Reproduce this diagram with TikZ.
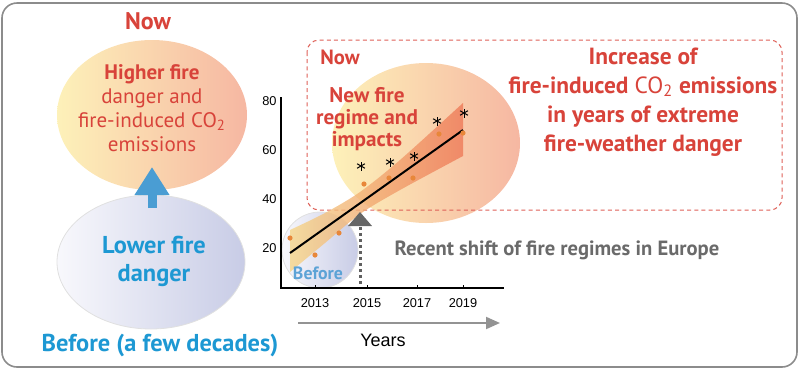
\documentclass[tikz,border=0pt]{standalone}
\usepackage{fontspec}
\setmainfont{PT Sans}
\newfontfamily\axisfont{Liberation Sans}
\usetikzlibrary{arrows.meta}

\definecolor{firered}{HTML}{D8433A}
\definecolor{iceblue}{HTML}{1D98D3}
\definecolor{softblue}{HTML}{5CA3D6}
\definecolor{shiftgray}{HTML}{6A6A6A}
\definecolor{warmleft}{HTML}{FDF1B9}
\definecolor{warmright}{HTML}{F6B7A2}
\definecolor{coolleft}{HTML}{F8F8FC}
\definecolor{coolright}{HTML}{C8CCE6}
\definecolor{dotorange}{HTML}{E8873A}
\definecolor{arrowblue}{HTML}{4A9DD3}
\definecolor{bandleft}{HTML}{F5D589}
\definecolor{bandright}{HTML}{EE7A58}

\newcommand{\fsz}[2]{\fontsize{#1}{#2}\selectfont}

\tikzset{
	firetext/.style={text=firered, align=center, inner sep=0pt},
	icetext/.style={text=iceblue, align=center, inner sep=0pt, font=\bfseries\fsz{12.2}{14}},
	yearlabel/.style={font=\axisfont\fsz{6.4}{8}, inner sep=0pt},
	datadot/.style={fill=dotorange, draw=none},
	starmark/.style={line width=0.5pt, black}
}

\begin{document}
\begin{tikzpicture}[x=0.5pt, y=-0.5pt]

	% frame
	\useasboundingbox (0,0) rectangle (800,387);
	\draw[gray!90, line width=0.8pt, rounded corners=7.5pt] (2,3) rectangle (797,367);

	% left ellipses
	\shade[left color=warmleft, right color=warmright] (152,115) ellipse [x radius=47.5pt, y radius=37.5pt];
	\shade[left color=coolleft, right color=coolright, draw=black!12, line width=0.4pt] (151,262) ellipse [x radius=47pt, y radius=33.5pt];

	% blue arrow
	\coordinate (arrowfoot) at (152,208);
	\coordinate (arrowtip) at (152,167);
	\draw[arrowblue, line width=4.5pt, -{Triangle[length=14pt, width=16.5pt]}] (arrowfoot) -- (arrowtip);

	% chart background shapes
	\shade[left color=warmleft, right color=warmright] (426,143) ellipse [x radius=47pt, y radius=40pt];
	\shade[left color=coolleft, right color=coolright, draw=black!12, line width=0.4pt] (320,250) circle [radius=19pt];
	\fill[white] (282,289) rectangle (360,300);
	\draw[firered!85, dashed, dash pattern=on 2pt off 1.6pt, line width=0.5pt, rounded corners=6pt] (307,40) rectangle (782,210);

	% confidence band
	\shade[left color=bandleft, right color=bandright, opacity=0.8]
		plot[smooth] coordinates {(290,230) (325,213) (360,192) (400,160) (463,103)}
		-- plot[smooth] coordinates {(463,156) (400,190) (360,214) (325,243) (290,272)}
		-- cycle;

	% regression line
	\draw[line width=1pt, black] (290,253) -- (463,130);

	% data points
	\foreach \px/\py in {290/238, 315/255, 339/233, 364/184, 389/178, 413/178, 439/134, 463/133}
		\fill[datadot] (\px,\py) circle [radius=1.3pt];

	% asterisks
	\foreach \px/\py in {361/166, 390/162, 414/156, 437/121, 464/113}
		\foreach \ang in {90,30,150}
			\draw[starmark] (\px,\py) ++(\ang:4.5) -- ++(\ang+180:9);

	% shift marker
	\coordinate (shifttop) at (360,212);
	\coordinate (shiftfoot) at (360,288);
	\fill[gray!80!black] (shifttop) -- (348,226) -- (372,226) -- cycle;
	\draw[gray!75!black, line width=1.5pt, dash pattern=on 1.5pt off 1.5pt] (360,227) -- (shiftfoot);

	% axes
	\draw[line width=0.55pt] (281,97) -- (281,288) -- (504,288);
	\foreach \yx in {315,367,417,463}
		\draw[line width=0.4pt] (\yx,288) -- (\yx,285);

	% labels
	\node[yearlabel, anchor=east] (ylab80) at (277,101) {80};
	\node[yearlabel, anchor=east] (ylab60) at (277,150) {60};
	\node[yearlabel, anchor=east] (ylab40) at (277,199) {40};
	\node[yearlabel, anchor=east] (ylab20) at (277,248) {20};
	\node[yearlabel] (x2013) at (315,303) {2013};
	\node[yearlabel] (x2015) at (367,303) {2015};
	\node[yearlabel] (x2017) at (417,303) {2017};
	\node[yearlabel] (x2019) at (463,303) {2019};

	% years arrow
	\coordinate (timestart) at (298,323);
	\coordinate (timeend) at (500,323);
	\draw[gray!85, line width=1pt, -{Triangle[length=7pt, width=6pt]}] (timestart) -- (timeend);
	\node[font=\axisfont\fsz{9}{10}, inner sep=0pt] (years) at (383,340) {Years};

	% texts left
	\node[firetext, font=\bfseries\fsz{12}{13}] (nowtop) at (148,21) {Now};
	\node[firetext, font=\fsz{10.5}{12}] (higher) at (152,108)
		{\textbf{Higher fire}\\danger and\\fire-induced CO\textsubscript{2}\\emissions};
	\node[icetext] (lower) at (154,261) {Lower fire\\danger};
	\node[icetext] (beforelong) at (160,345) {Before (a few decades)};

	% texts right
	\node[firetext, font=\bfseries\fsz{10.3}{11}] (nowbox) at (340,57) {Now};
	\node[firetext, font=\bfseries\fsz{10.6}{11}] (regime) at (367,119) {New fire\\regime and\\impacts};
	\node[firetext, font=\bfseries\fsz{11.7}{14.5}] (increase) at (643,102)
		{Increase of\\fire-induced {\mdseries CO\textsubscript{2}} emissions\\in years of extreme\\fire-weather danger};
	\node[text=softblue, font=\bfseries\fsz{8.9}{9}, inner sep=0pt] (beforeshort) at (318,273) {Before};
	\node[text=shiftgray, font=\bfseries\fsz{10.3}{11}, inner sep=0pt] (shift) at (557,250) {Recent shift of fire regimes in Europe};

\end{tikzpicture}
\end{document}
